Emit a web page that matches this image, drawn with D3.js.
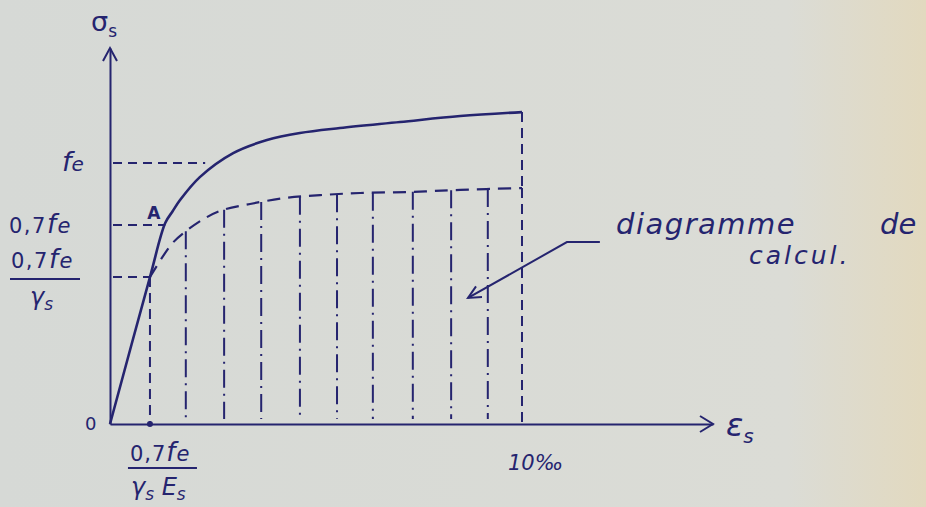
<!DOCTYPE html>
<html lang="fr">
<head>
<meta charset="UTF-8">
<title>Diagramme contrainte-déformation</title>
<script src="https://cdn.jsdelivr.net/npm/d3@7"></script>
<style>
  body { margin: 0; background: #d9dbd7; }
  text { font-family: "DejaVu Sans", sans-serif; fill: #25246f; }
</style>
</head>
<body>
<div class="chart"></div>
<script>
  // strain in per mille, stress as fraction of fe (as drawn by hand)
  const realStrain = [0, 0.97, 1.34, 1.52, 1.70, 2.18, 2.99, 3.81, 4.61, 5.58, 7.04, 8.50, 10];
  const realStress = [0, 0.563, 0.770, 0.815, 0.858, 0.946, 1.038, 1.088, 1.115, 1.134, 1.157, 1.180, 1.195];
  const calcStrain = [0.97, 1.50, 1.82, 2.31, 2.74, 3.40, 4.25, 5.10, 6.07, 7.28, 8.50, 10];
  const calcStress = [0.563, 0.690, 0.736, 0.789, 0.820, 0.843, 0.866, 0.877, 0.885, 0.889, 0.897, 0.904];
  const hatchStrain = [0.97, 1.84, 2.77, 3.67, 4.61, 5.51, 6.38, 7.35, 8.28, 9.17, 10];
  const yTickValues = [1, 0.762, 0.563];
  const xTickValues = [0.97, 10];

  const ink = '#25246f';
  const W = 926, H = 507;
  const origin = {x: 110, y: 424};

  const x = d3.scaleLinear().domain([0, 10]).range([origin.x, 522]);
  const y = d3.scaleLinear().domain([0, 1]).range([origin.y, 163]);
  const xMax = x.invert(713), yMax = y.invert(48);

  const svg = d3.select('.chart').append('svg').attr('width', W).attr('height', H);
  const defs = svg.append('defs');
  const grad = defs.append('linearGradient').attr('id', 'paper').attr('x1', 0).attr('x2', 1);
  grad.append('stop').attr('offset', '0%').attr('stop-color', '#d6d9d6');
  grad.append('stop').attr('offset', '85%').attr('stop-color', '#dbdcd6');
  grad.append('stop').attr('offset', '100%').attr('stop-color', '#e2d9bf');
  svg.append('rect').attr('width', W).attr('height', H).attr('fill', 'url(#paper)');

  // axes
  svg.append('g').attr('transform', `translate(${x(0)} 0)`)
    .call(d3.axisLeft(y.copy().domain([0, yMax]).range([origin.y, 48])).tickValues([]).tickSizeOuter(0))
    .select('.domain').attr('stroke', ink).attr('stroke-width', 2);
  svg.append('g').attr('transform', `translate(0 ${y(0)})`)
    .call(d3.axisBottom(x.copy().domain([0, xMax]).range([origin.x, 713])).tickValues([]).tickSizeOuter(0))
    .select('.domain').attr('stroke', ink).attr('stroke-width', 2);

  // arrow heads
  svg.append('path').attr('d', `M${x(0) - 7},${y(yMax) + 13} L${x(0)},${y(yMax)} L${x(0) + 7},${y(yMax) + 13}`)
    .attr('fill', 'none').attr('stroke', ink).attr('stroke-width', 2);
  svg.append('path').attr('d', `M${x(xMax) - 13},${y(0) - 8} L${x(xMax)},${y(0)} L${x(xMax) - 13},${y(0) + 8}`)
    .attr('fill', 'none').attr('stroke', ink).attr('stroke-width', 2);

  // horizontal reference dashes
  const refEnds = [2.31, 1.34, 0.97];
  yTickValues.forEach((v, i) => {
    svg.append('line')
      .attr('x1', x(0) + 3).attr('x2', x(refEnds[i]))
      .attr('y1', y(v)).attr('y2', y(v))
      .attr('stroke', ink).attr('stroke-width', 2).attr('stroke-dasharray', '9,6');
  });

  // interpolate design curve
  function calcAt(e) {
    const i = Math.max(1, d3.bisectLeft(calcStrain, e));
    const t = (e - calcStrain[i - 1]) / (calcStrain[i] - calcStrain[i - 1]);
    return calcStress[i - 1] + t * (calcStress[i] - calcStress[i - 1]);
  }

  // hatching
  hatchStrain.forEach((e, i) => {
    const last = i === hatchStrain.length - 1, first = i === 0;
    svg.append('line')
      .attr('x1', x(e)).attr('x2', x(e))
      .attr('y1', y(calcAt(e))).attr('y2', y(0) - (first || last ? 0 : 5))
      .attr('stroke', ink).attr('stroke-width', 2)
      .attr('stroke-dasharray', first || last ? '10,6' : '18,6,2,6');
  });
  svg.append('circle').attr('cx', x(xTickValues[0])).attr('cy', y(0)).attr('r', 3).attr('fill', ink);

  const line = d3.line().x(d => x(d[0])).y(d => y(d[1])).curve(d3.curveCatmullRom.alpha(0.5));

  // design curve (dashed)
  svg.append('path').datum(d3.zip(calcStrain, calcStress)).attr('d', line)
    .attr('fill', 'none').attr('stroke', ink).attr('stroke-width', 2.2).attr('stroke-dasharray', '13,8');

  // real curve
  svg.append('path').datum(d3.zip(realStrain, realStress)).attr('d', line)
    .attr('fill', 'none').attr('stroke', ink).attr('stroke-width', 2.6);

  // top of the 10 per mille dashed line
  svg.append('line').attr('x1', x(10)).attr('x2', x(10))
    .attr('y1', y(realStress[realStress.length - 1])).attr('y2', y(calcAt(10)))
    .attr('stroke', ink).attr('stroke-width', 2).attr('stroke-dasharray', '10,6');

  // labels
  function sub(sel, main, s, size, subSize) {
    sel.append('tspan').text(main).attr('font-size', size);
    sel.append('tspan').text(s).attr('font-size', subSize).attr('dy', size * 0.22);
    return sel;
  }
  function frac07(s) {
    s.append('tspan').text('0,7');
    s.append('tspan').text('f').attr('font-size', 26).attr('font-style', 'italic');
    s.append('tspan').text('e').attr('font-style', 'italic').attr('font-size', 21);
  }
  sub(svg.append('text').attr('x', x(0) - 19).attr('y', 31), 'σ', 's', 27, 17);
  sub(svg.append('text').attr('x', 726).attr('y', y(0) + 12).attr('font-style', 'italic'), 'ε', 's', 32, 20);
  svg.append('text').attr('x', x(0) - 25).attr('y', y(0) + 6).attr('font-size', 18).text('0');
  svg.append('text').attr('x', x(1.34) - 18).attr('y', y(0.762) - 6).attr('font-size', 17).attr('font-weight', 'bold').text('A');

  // y tick labels
  svg.append('text').attr('x', 62).attr('y', y(1) + 8).attr('font-size', 27).attr('font-style', 'italic')
    .call(s => { s.append('tspan').text('f'); s.append('tspan').text('e').attr('font-size', 20); });
  svg.append('text').attr('x', 9).attr('y', y(0.762) + 8).attr('font-size', 21).attr('letter-spacing', 1.5).call(frac07);
  svg.append('text').attr('x', 11).attr('y', y(0.563) - 9).attr('font-size', 21).attr('letter-spacing', 1.5).call(frac07);
  svg.append('line').attr('x1', 10).attr('x2', 80).attr('y1', y(0.563) + 2).attr('y2', y(0.563) + 2)
    .attr('stroke', ink).attr('stroke-width', 2);
  sub(svg.append('text').attr('x', 30).attr('y', y(0.563) + 28).attr('font-style', 'italic'), 'γ', 's', 24, 17);

  // x tick labels
  svg.append('text').attr('x', x(0.97) - 20).attr('y', y(0) + 37).attr('font-size', 21).attr('letter-spacing', 1).call(frac07);
  svg.append('line').attr('x1', x(0.97) - 22).attr('x2', x(0.97) + 47).attr('y1', y(0) + 44).attr('y2', y(0) + 44)
    .attr('stroke', ink).attr('stroke-width', 2);
  svg.append('text').attr('x', x(0.97) - 19).attr('y', y(0) + 71).attr('font-size', 24).attr('font-style', 'italic')
    .call(s => {
      s.append('tspan').text('γ');
      s.append('tspan').text('s').attr('font-size', 17).attr('dy', 5);
      s.append('tspan').text(' E').attr('dy', -5);
      s.append('tspan').text('s').attr('font-size', 17).attr('dy', 5);
    });
  svg.append('text').attr('x', x(10) - 14).attr('y', y(0) + 46).attr('font-size', 21).attr('font-style', 'italic').text('10‰');

  // annotation
  const note = [[11.89, 0.697], [11.09, 0.697], [8.69, 0.483]];
  svg.append('path').attr('d', d3.line().x(d => x(d[0])).y(d => y(d[1]))(note))
    .attr('fill', 'none').attr('stroke', ink).attr('stroke-width', 2);
  const tip = note[2], prev = note[1];
  const ang = Math.atan2(y(prev[1]) - y(tip[1]), x(prev[0]) - x(tip[0]));
  const tx = x(tip[0]), ty = y(tip[1]);
  svg.append('path')
    .attr('d', `M${tx + 14 * Math.cos(ang - 0.45)},${ty + 14 * Math.sin(ang - 0.45)} L${tx},${ty} L${tx + 14 * Math.cos(ang + 0.45)},${ty + 14 * Math.sin(ang + 0.45)}`)
    .attr('fill', 'none').attr('stroke', ink).attr('stroke-width', 2);
  svg.append('text').attr('x', 616).attr('y', 234).attr('font-size', 29).attr('font-style', 'italic')
    .attr('font-family', 'DejaVu Serif').attr('letter-spacing', 1.5).text('diagramme');
  svg.append('text').attr('x', 880).attr('y', 234).attr('font-size', 29).attr('font-style', 'italic')
    .attr('font-family', 'DejaVu Serif').text('de');
  svg.append('text').attr('x', 749).attr('y', 264).attr('font-size', 25).attr('font-style', 'italic')
    .attr('font-family', 'DejaVu Serif').attr('letter-spacing', 3).text('calcul.');
</script>
</body>
</html>
